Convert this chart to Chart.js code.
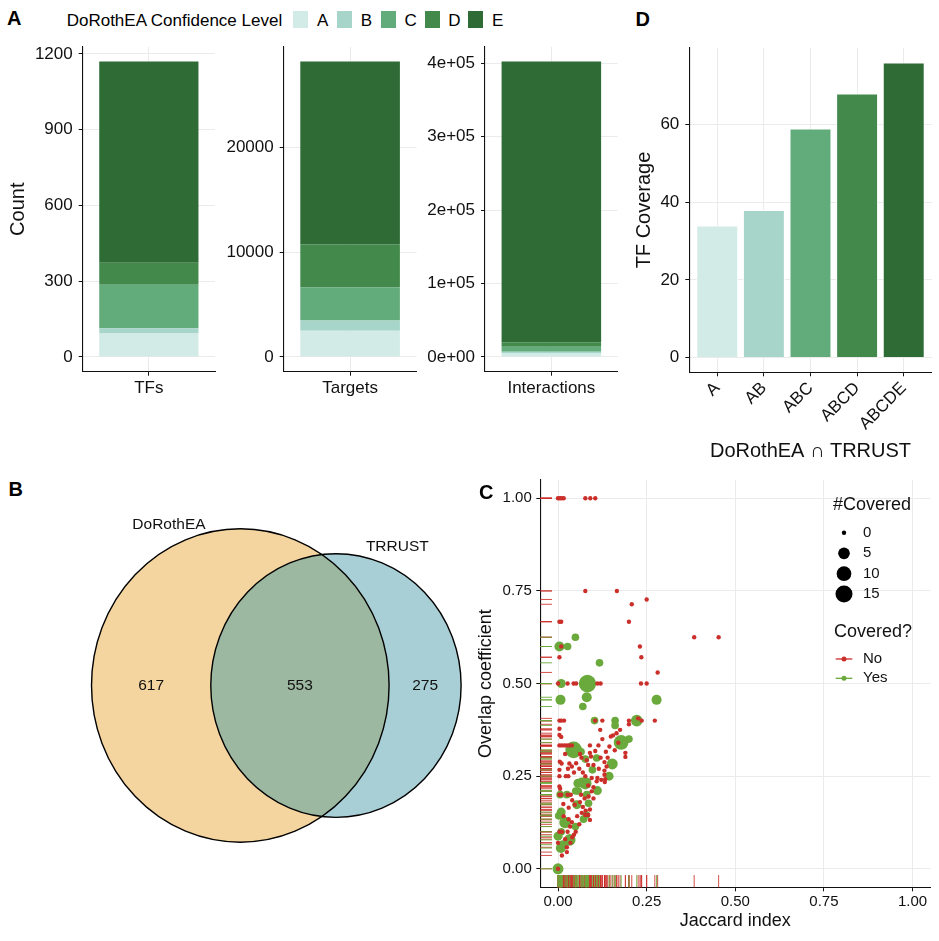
<!DOCTYPE html>
<html><head><meta charset="utf-8">
<script src="https://cdn.jsdelivr.net/npm/chart.js@4"></script>
<style>
html,body{margin:0;padding:0;background:#fff}
body{width:939px;height:941px;position:relative;overflow:hidden;font-family:"Liberation Sans",Arial,Helvetica,sans-serif;color:#000}
canvas{position:absolute}
.t{position:absolute;white-space:nowrap;line-height:17px;font-size:17px}
.pl{position:absolute;font-weight:bold;font-size:20px;line-height:20px}
.sw{position:absolute;width:15px;height:17px}
</style></head><body>
<script>
// ---------------- DATA ----------------
const levels = ['A','B','C','D','E'];
const levelColors = ['#d3ebe6','#a7d5c9','#62ab7b','#44894c','#2e6b35'];
const tfCounts = [93, 21, 172, 87, 797];
const targetCounts = [2500, 980, 3190, 4090, 17480];
const interactionCounts = [5500, 1700, 6500, 6300, 382200];
const tfTicks = [0, 300, 600, 900, 1200];
const targetTicks = [0, 10000, 20000];
const interactionTicks = [0, 100000, 200000, 300000, 400000];
const interactionTickLabels = ['0e+00','1e+05','2e+05','3e+05','4e+05'];

const coverageCategories = ['A','AB','ABC','ABCD','ABCDE'];
const coverageValues = [34, 38, 59, 68, 76];
const coverageTicks = [0, 20, 40, 60];

const vennSetNames = ['DoRothEA','TRRUST'];
const vennRegionCounts = [617, 553, 275]; // DoRothEA only, both, TRRUST only
const vennFill = ['#f5d59f','#a8cfd5','#9db8a0'];

const scatterTicks = [0, 0.25, 0.5, 0.75, 1];
const sizeLegendValues = [0, 5, 10, 15];
const maxCovered = 16;
// not covered: [jaccard, overlap]
const notCovered = [
 [0,1],[0.005,1],[0.01,1],[0.016,1],[0.077,1],[0.091,1],[0.105,1],
 [0.077,0.75],[0.166,0.75],[0.25,0.727],[0.208,0.714],
 [0.004,0.667],[0.009,0.667],[0.2,0.667],[0.384,0.625],[0.453,0.625],
 [0.009,0.6],[0.231,0.6],[0.004,0.571],[0.235,0.571],[0.281,0.53],
 [0,0.5],[0.027,0.5],[0.044,0.5],[0.051,0.5],[0.111,0.5],[0.12,0.5],[0.234,0.5],[0.25,0.5],
 [0.004,0.4],[0.009,0.4],[0.017,0.4],[0.105,0.4],[0.125,0.4],[0.2,0.4],[0.2,0.39],[0.226,0.406],[0.236,0.4],[0.273,0.4],
 [0.004,0.378],[0.004,0.361],[0.009,0.356],[0.119,0.375],[0.155,0.36],[0.165,0.366],[0.175,0.375],[0.149,0.357],
 [0.19,0.313],[0.19,0.302],[0.114,0.333],[0.09,0.333],
 [0.004,0.333],[0.011,0.333],[0.018,0.333],[0.025,0.333],[0.032,0.333],[0.039,0.333],
 [0.062,0.31],[0.066,0.3],[0.093,0.303],[0.105,0.318],[0.09,0.313],[0.135,0.316],
 [0.005,0.289],[0.01,0.284],[0.032,0.284],[0.039,0.276],[0.051,0.285],[0.081,0.293],[0.085,0.28],[0.131,0.288],[0.137,0.276],[0.131,0.265],[0.004,0.267],
 [0.004,0.25],[0.022,0.25],[0.029,0.25],[0.077,0.25],[0.111,0.245],[0.122,0.24],[0.131,0.254],[0.133,0.242],[0.132,0.234],[0.109,0.236],
 [0.004,0.222],[0.006,0.216],[0.095,0.209],[0.086,0.195],[0.1,0.19],
 [0.004,0.2],[0.009,0.2],[0.027,0.2],[0.036,0.2],
 [0.062,0.18],[0.07,0.167],[0.078,0.157],[0.085,0.145],[0.09,0.132],[0.067,0.151],[0.054,0.142],[0.047,0.173],[0.09,0.16],[0.077,0.145],
 [0.016,0.142],[0.03,0.134],[0.039,0.126],[0.034,0.114],
 [0.004,0.1],[0.011,0.1],[0.027,0.1],
 [0,0.07],[0.025,0.058],[0.035,0.07],[0.04,0.085],[0.045,0.092],[0.011,0.036],[0.025,0.045],[0,0],
 [0.02,0.31],[0.028,0.27],[0.045,0.26],[0.06,0.27],[0.07,0.26],[0.1,0.28],[0.115,0.27],[0.12,0.3],
 [0.095,0.245],[0.085,0.225],[0.1,0.22],[0.065,0.2],[0.075,0.19],[0.04,0.185],[0.03,0.165],[0.06,0.12],
 [0.05,0.1],[0.02,0.08],[0.015,0.175],[0.14,0.3],[0.16,0.32],[0.17,0.34],[0.125,0.35],[0.145,0.33]
];
// covered: [jaccard, overlap, #covered]
const covered = [
 [0.049,0.625,1],[0.004,0.6,3],[0.027,0.6,1],[0.117,0.556,1],[0.009,0.5,2],[0.083,0.5,16],
 [0.007,0.456,3],[0.081,0.463,3],[0.07,0.438,1],[0.278,0.456,3],[0.103,0.4,1],[0.161,0.4,1],[0.161,0.387,1],
 [0.222,0.4,5],[0.178,0.341,10],[0.2,0.35,1],[0.044,0.321,14],[0.077,0.296,1],[0.065,0.316,1],[0.109,0.299,1],
 [0.153,0.283,4],[0.097,0.267,1],[0.144,0.25,2],[0.067,0.233,3],[0.077,0.231,6],[0.056,0.231,2],[0.111,0.211,2],
 [0.081,0.2,1],[0.006,0.2,1],[0.025,0.2,1],[0.05,0.21,1],[0.057,0.21,1],[0.053,0.173,2],[0.086,0.177,1],
 [0.009,0.153,2],[0.002,0.143,1],[0.02,0.125,5],[0.072,0.134,1],[0.08,0.145,1],[0.049,0.114,1],[0.009,0.1,1],
 [0,0.088,2],[0.033,0.078,5],[0.008,0.056,3],[0.013,0.065,2],[0,0,4]
];

// ---------------- STYLE ----------------
const FONT = '"Liberation Sans", Arial, Helvetica, sans-serif';
const GRID = '#ebebeb';
const RED = '#cb2f2a';
const GREEN = '#6aa93b';
Chart.defaults.font.family = FONT;
Chart.defaults.color = '#111';

function makeCanvas(left, top, w, h) {
  const c = document.createElement('canvas');
  c.width = w; c.height = h;
  c.style.left = left + 'px'; c.style.top = top + 'px';
  c.style.width = w + 'px'; c.style.height = h + 'px';
  document.body.appendChild(c);
  return c;
}
function gridOpts(offset) {
  return {color: GRID, lineWidth: 1, offset: offset, tickColor: '#111', tickLength: 4, tickWidth: 1};
}
const borderOpts = {display: true, color: '#111', width: 1.1};
const baseOpts = (c, area) => ({
  responsive: false, animation: false, events: [],
  layout: {padding: {top: area.top, right: c.width - area.right, left: 0, bottom: 0}},
  plugins: {legend: {display: false}, tooltip: {enabled: false}}
});

// ---------------- PANEL A ----------------
function stackedPanel(c, catLabel, counts, ticks, tickLabels, area, yTitle) {
  const total = counts.reduce((a, b) => a + b, 0);
  const opts = baseOpts(c, area);
  opts.scales = {
    x: {stacked: true, grid: gridOpts(false), border: borderOpts,
        ticks: {font: {size: 17}, color: '#111', padding: 2},
        afterFit: s => { s.height = c.height - area.bottom; }},
    y: {stacked: true, min: -0.05 * total, max: 1.05 * total,
        afterBuildTicks: s => { s.ticks = ticks.map(v => ({value: v})); },
        ticks: {font: {size: 17}, color: '#111', padding: 6,
                callback: (v, i) => tickLabels ? tickLabels[i] : String(v)},
        grid: gridOpts(false), border: borderOpts,
        title: yTitle ? {display: true, text: yTitle, font: {size: 20}, color: '#111', padding: {top: 6, bottom: 0}} : {display: false},
        afterFit: s => { s.width = area.left; }}
  };
  return new Chart(c, {
    type: 'bar',
    data: {labels: [catLabel], datasets: levels.map((lv, i) => ({
      label: lv, data: [counts[i]], backgroundColor: levelColors[i], borderWidth: 0,
      categoryPercentage: 1, barPercentage: 0.75}))},
    options: opts
  });
}
const cTF = makeCanvas(0, 30, 225, 380);
stackedPanel(cTF, 'TFs', tfCounts, tfTicks, null, {left: 82.7, right: 215, top: 16.7, bottom: 341.7}, 'Count');
const cTG = makeCanvas(225, 30, 200, 380);
stackedPanel(cTG, 'Targets', targetCounts, targetTicks, null, {left: 58.7, right: 191.5, top: 16.7, bottom: 341.7}, null);
const cIN = makeCanvas(425, 30, 200, 380);
stackedPanel(cIN, 'Interactions', interactionCounts, interactionTicks, interactionTickLabels, {left: 60, right: 192.7, top: 16.7, bottom: 341.7}, null);

// ---------------- PANEL D ----------------
(function () {
  const c = makeCanvas(625, 30, 314, 440);
  const area = {left: 64.3, right: 306.7, top: 17.7, bottom: 342.3};
  const maxV = Math.max(...coverageValues);
  const opts = baseOpts(c, area);
  opts.scales = {
    x: {type: 'linear', offset: false, min: 0.4, max: coverageCategories.length + 0.6,
        afterBuildTicks: s => { s.ticks = coverageCategories.map((_, i) => ({value: i + 1})); },
        ticks: {font: {size: 17}, color: '#111', padding: 2, autoSkip: false, maxRotation: 45, minRotation: 45,
                callback: (v, i) => coverageCategories[i]},
        grid: gridOpts(false), border: borderOpts,
        title: {display: true, text: 'DoRothEA ∩ TRRUST', font: {size: 20}, color: '#111', padding: {top: 0, bottom: 7}},
        afterFit: s => { s.height = c.height - area.bottom; }},
    y: {min: -0.05 * maxV, max: 1.05 * maxV,
        afterBuildTicks: s => { s.ticks = coverageTicks.map(v => ({value: v})); },
        ticks: {font: {size: 17}, color: '#111', padding: 6, callback: v => String(v)},
        grid: gridOpts(false), border: borderOpts,
        title: {display: true, text: 'TF Coverage', font: {size: 20}, color: '#111', padding: {top: 7, bottom: 0}},
        afterFit: s => { s.width = area.left; }}
  };
  new Chart(c, {
    type: 'bar',
    data: {datasets: [{data: coverageValues.map((v, i) => ({x: i + 1, y: v})),
      backgroundColor: levelColors, borderColor: '#ffffff', borderWidth: 1,
      barPercentage: 0.9, categoryPercentage: 1}]},
    options: opts
  });
})();

// ---------------- PANEL B (Venn) ----------------
(function () {
  const c = makeCanvas(60, 500, 420, 370);
  const nA = vennRegionCounts[0] + vennRegionCounts[1];
  const nB = vennRegionCounts[1] + vennRegionCounts[2];
  const r1 = Math.sqrt(nA / Math.PI), r2 = Math.sqrt(nB / Math.PI);
  const lens = d => {
    const a1 = Math.acos((d * d + r1 * r1 - r2 * r2) / (2 * d * r1));
    const a2 = Math.acos((d * d + r2 * r2 - r1 * r1) / (2 * d * r2));
    return r1 * r1 * a1 + r2 * r2 * a2 - 0.5 * Math.sqrt((-d + r1 + r2) * (d + r1 - r2) * (d - r1 + r2) * (d + r1 + r2));
  };
  let lo = Math.abs(r1 - r2) + 1e-6, hi = r1 + r2 - 1e-6;
  for (let k = 0; k < 80; k++) { const m = (lo + hi) / 2; if (lens(m) > vennRegionCounts[1]) lo = m; else hi = m; }
  const d = (lo + hi) / 2;
  const circles = [{x: 0, y: 0, r: r1}, {x: d, y: 0, r: r2}];
  const labelAngles = [115, 65], labelGap = 2.6;
  const regionX = [(-r1 + d - r2) / 2, (d - r2 + r1) / 2, (r1 + d + r2) / 2];
  const vennPlugin = {
    id: 'venn',
    afterDatasetsDraw(chart) {
      const {ctx, scales: {x, y}} = chart;
      const px = circles.map(o => ({cx: x.getPixelForValue(o.x), cy: y.getPixelForValue(o.y),
        rx: Math.abs(x.getPixelForValue(o.x + o.r) - x.getPixelForValue(o.x)),
        ry: Math.abs(y.getPixelForValue(o.y + o.r) - y.getPixelForValue(o.y))}));
      const path = p => { ctx.beginPath(); ctx.ellipse(p.cx, p.cy, p.rx, p.ry, 0, 0, Math.PI * 2); };
      ctx.save();
      path(px[0]); ctx.fillStyle = vennFill[0]; ctx.fill();
      path(px[1]); ctx.fillStyle = vennFill[1]; ctx.fill();
      ctx.save(); path(px[0]); ctx.clip(); path(px[1]); ctx.fillStyle = vennFill[2]; ctx.fill(); ctx.restore();
      ctx.lineWidth = 1.4; ctx.strokeStyle = '#000';
      path(px[0]); ctx.stroke(); path(px[1]); ctx.stroke();
      ctx.fillStyle = '#111'; ctx.font = '15.5px ' + FONT; ctx.textAlign = 'center'; ctx.textBaseline = 'middle';
      vennRegionCounts.forEach((n, i) => ctx.fillText(String(n), x.getPixelForValue(regionX[i]), y.getPixelForValue(0)));
      vennSetNames.forEach((nm, i) => {
        const o = circles[i], a = labelAngles[i] * Math.PI / 180, rr = o.r + labelGap;
        ctx.fillText(nm, x.getPixelForValue(o.x + rr * Math.cos(a)), y.getPixelForValue(o.y + rr * Math.sin(a)));
      });
      ctx.restore();
    }
  };
  new Chart(c, {
    type: 'scatter',
    data: {datasets: [{data: []}]},
    options: {responsive: false, animation: false, events: [], layout: {padding: 0},
      plugins: {legend: {display: false}, tooltip: {enabled: false}},
      scales: {x: {display: false, min: -23.385, max: 31.09}, y: {display: false, min: -22.72, max: 22.845}}},
    plugins: [vennPlugin]
  });
})();

// ---------------- PANEL C ----------------
(function () {
  const c = makeCanvas(470, 460, 469, 481);
  const area = {left: 70.3, right: 461.7, top: 19.8, bottom: 427.3};
  const sizeRadius = n => 2.2 + 6.5 * Math.sqrt(n / maxCovered);
  const rugPlugin = {
    id: 'rug',
    beforeDatasetsDraw(chart) {
      const {ctx, chartArea: a, scales: {x, y}} = chart;
      const lenV = 0.03 * (a.bottom - a.top), lenH = 0.03 * (a.right - a.left);
      ctx.save(); ctx.lineWidth = 1;
      [[notCovered, 'rgba(203,47,42,0.85)'], [covered, 'rgba(106,169,59,0.9)']].forEach(([arr, col]) => {
        ctx.strokeStyle = col;
        arr.forEach(p => {
          const xp = x.getPixelForValue(p[0]), yp = y.getPixelForValue(p[1]);
          ctx.beginPath(); ctx.moveTo(xp, a.bottom); ctx.lineTo(xp, a.bottom - lenV); ctx.stroke();
          ctx.beginPath(); ctx.moveTo(a.left, yp); ctx.lineTo(a.left + lenH, yp); ctx.stroke();
        });
      });
      ctx.restore();
    }
  };
  const legendPlugin = {
    id: 'cLegend',
    afterDraw(chart) {
      const ctx = chart.ctx;
      ctx.save();
      ctx.textBaseline = 'middle'; ctx.textAlign = 'left'; ctx.fillStyle = '#111';
      ctx.font = '18px ' + FONT;
      ctx.fillText('#Covered', 363, 45.3);
      const ys = [72.7, 93.3, 113.7, 134];
      ctx.font = '15px ' + FONT;
      sizeLegendValues.forEach((v, i) => {
        ctx.beginPath(); ctx.arc(374, ys[i], sizeRadius(v), 0, Math.PI * 2); ctx.fillStyle = '#000'; ctx.fill();
        ctx.fillStyle = '#111'; ctx.fillText(String(v), 393, ys[i]);
      });
      ctx.font = '18px ' + FONT;
      ctx.fillText('Covered?', 364, 171.7);
      ctx.font = '15px ' + FONT;
      [['No', RED, 199], ['Yes', GREEN, 218.3]].forEach(([t, col, yy]) => {
        ctx.strokeStyle = col; ctx.lineWidth = 1.3;
        ctx.beginPath(); ctx.moveTo(365.7, yy); ctx.lineTo(382.3, yy); ctx.stroke();
        ctx.beginPath(); ctx.arc(374, yy, 2.5, 0, Math.PI * 2); ctx.fillStyle = col; ctx.fill();
        ctx.fillStyle = '#111'; ctx.fillText(t, 393, yy);
      });
      ctx.restore();
    }
  };
  const axis = (title, isX) => ({
    type: 'linear', min: -0.05, max: 1.05,
    afterBuildTicks: s => { s.ticks = scatterTicks.map(v => ({value: v})); },
    ticks: {font: {size: 15}, color: '#111', padding: isX ? 2 : 4.5, callback: v => v.toFixed(2)},
    grid: gridOpts(false), border: borderOpts,
    title: {display: true, text: title, font: {size: 18}, color: '#111',
            padding: isX ? {top: 0, bottom: 9} : {top: 5.2, bottom: 0}},
    afterFit: isX ? (s => { s.height = c.height - area.bottom; }) : (s => { s.width = area.left; })
  });
  const opts = baseOpts(c, area);
  opts.scales = {x: axis('Jaccard index', true), y: axis('Overlap coefficient', false)};
  new Chart(c, {
    type: 'scatter',
    data: {datasets: [
      {label: 'No', data: notCovered.map(p => ({x: p[0], y: p[1], n: 0})), order: 0,
       pointBackgroundColor: RED, pointBorderWidth: 0, pointRadius: ctx => sizeRadius(ctx.raw.n)},
      {label: 'Yes', data: covered.map(p => ({x: p[0], y: p[1], n: p[2]})), order: 1,
       pointBackgroundColor: GREEN, pointBorderWidth: 0, pointRadius: ctx => sizeRadius(ctx.raw.n)}
    ]},
    options: opts,
    plugins: [rugPlugin, legendPlugin]
  });
})();

// ---------------- HTML TEXT: panel letters & legend ----------------
function addText(cls, text, left, top) {
  const e = document.createElement('div'); e.className = cls; e.textContent = text;
  e.style.left = left + 'px'; e.style.top = top + 'px'; document.body.appendChild(e); return e;
}
addText('pl', 'A', 7, 8.4);
addText('pl', 'D', 635.5, 9);
addText('pl', 'B', 8.5, 479);
addText('pl', 'C', 479, 482.4);
addText('t', 'DoRothEA Confidence Level', 66.7, 12);
levels.forEach((lv, i) => {
  const x0 = 293.3 + i * 43.75;
  const s = document.createElement('div'); s.className = 'sw';
  s.style.left = x0 + 'px'; s.style.top = '11px'; s.style.background = levelColors[i];
  document.body.appendChild(s);
  addText('t', lv, x0 + 23.7, 12);
});
</script>
</body></html>
